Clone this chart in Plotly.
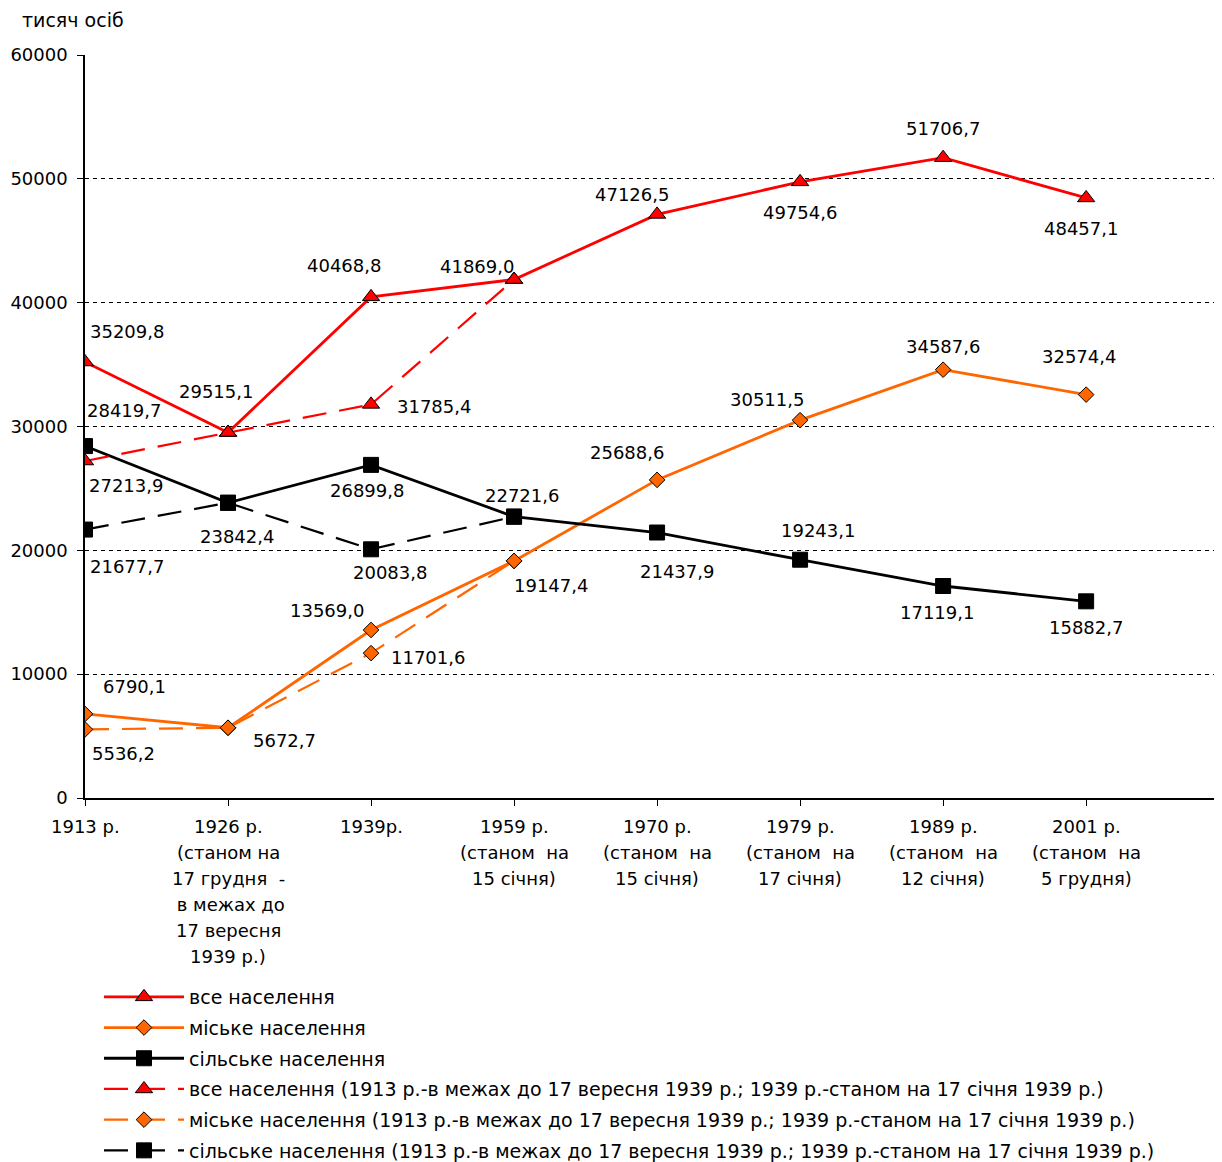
import plotly.graph_objects as go

# categories (census years) and their multi-line axis labels
years = ['1913', '1926', '1939', '1959', '1970', '1979', '1989', '2001']
tick_labels = [
    ['1913 р.'],
    ['1926 р.', '(станом на', '17 грудня  -', ' в межах до', '17 вересня', '1939 р.)'],
    ['1939р.'],
    ['1959 р.', '(станом  на', '15 січня)'],
    ['1970 р.', '(станом  на', '15 січня)'],
    ['1979 р.', '(станом  на', '17 січня)'],
    ['1989 р.', '(станом  на', '12 січня)'],
    ['2001 р.', '(станом  на', '5 грудня)'],
]

total = [35209.8, 29515.1, 40468.8, 41869.0, 47126.5, 49754.6, 51706.7, 48457.1]
urban = [6790.1, 5672.7, 13569.0, 19147.4, 25688.6, 30511.5, 34587.6, 32574.4]
rural = [28419.7, 23842.4, 26899.8, 22721.6, 21437.9, 19243.1, 17119.1, 15882.7]

# 1913 - within borders before 17 Sept 1939; 1939 - as of 17 Jan 1939
total_old = [27213.9, 29515.1, 31785.4, 41869.0]
urban_old = [5536.2, 5672.7, 11701.6, 19147.4]
rural_old = [21677.7, 23842.4, 20083.8, 22721.6]

RED = '#FF0000'
ORANGE = '#FF6600'
BLACK = '#000000'
FONT = 'DejaVu Sans'
FS = 18

# label offsets (px) relative to each point, None = no label
off_total = [(42, -30), (-12, -41), (-27, -31), (-37, -13), (-25, -20), (0, 31), (0, -29), (-5, 31)]
off_total_old = [(41, 24), None, (63, 2), None]
off_urban = [(49, -27), (56, 13), (-44, -19), (37, 25), (-30, -27), (-33, -21), (0, -23), (-7, -38)]
off_urban_old = [(38, 24), None, (57, 4), None]
off_rural = [(39, -36), (9, 34), (-4, 26), (8, -21), (20, 39), (18, -29), (-6, 26), (0, 26)]
off_rural_old = [(42, 37), None, (19, 23), None]

fig = go.Figure()

series = [
    ('все населення', total, RED, 'triangle-up', 'solid', off_total),
    ('міське населення', urban, ORANGE, 'diamond', 'solid', off_urban),
    ('сільське населення', rural, BLACK, 'square', 'solid', off_rural),
    ('все населення (1913 р.-в межах до 17 вересня 1939 р.; 1939 р.-станом на 17 січня 1939 р.)',
     total_old, RED, 'triangle-up', '24px,13px', off_total_old),
    ('міське населення (1913 р.-в межах до 17 вересня 1939 р.; 1939 р.-станом на 17 січня 1939 р.)',
     urban_old, ORANGE, 'diamond', '24px,13px', off_urban_old),
    ('сільське населення (1913 р.-в межах до 17 вересня 1939 р.; 1939 р.-станом на 17 січня 1939 р.)',
     rural_old, BLACK, 'square', '24px,13px', off_rural_old),
]
marker_size = {'triangle-up': 15, 'diamond': 12, 'square': 15}

annotations = []
for k, (name, vals, color, sym, dash, offs) in enumerate(series):
    xs = list(range(len(vals)))
    fig.add_trace(go.Scatter(
        x=xs, y=vals, name=name, mode='lines+markers', legendgroup=str(k),
        line=dict(color=color, width=2.8 if dash == 'solid' else 2.2, dash=dash),
        marker=dict(symbol=sym, size=marker_size[sym], color=color,
                    line=dict(color=BLACK, width=1)),
    ))
    for xi, v, o in zip(xs, vals, offs):
        if o is None:
            continue
        annotations.append(dict(
            x=xi, y=v, xref='x', yref='y', showarrow=False,
            text=f'{v:.1f}'.replace('.', ','), xshift=o[0], yshift=-o[1],
            font=dict(family=FONT, size=FS, color=BLACK),
        ))

# category labels under the axis, one line each
for i, lines in enumerate(tick_labels):
    for j, line in enumerate(lines):
        annotations.append(dict(
            x=i, y=0, xref='x', yref='paper', yanchor='middle', showarrow=False,
            text=line.replace(' ', '&nbsp;'), yshift=-28 - j * 26,
            font=dict(family=FONT, size=FS, color=BLACK),
        ))

annotations.append(dict(
    x=-65 / 1137, y=(798 - 20) / 743, xref='paper', yref='paper', showarrow=False,
    xanchor='left', yanchor='middle',
    text='тисяч осіб', font=dict(family=FONT, size=19, color=BLACK),
))

# the page body adds an 8px offset, so the figure is 8px smaller than the window
fig.update_layout(
    width=1214, height=1154,
    margin=dict(l=77, r=0, t=47, b=364, autoexpand=False),
    paper_bgcolor='white', plot_bgcolor='white',
    font=dict(family=FONT, size=FS, color=BLACK),
    showlegend=True,
    legend=dict(
        x=(99 - 85) / 1137, y=(798 - 978) / 743,
        xanchor='left', yanchor='top', itemwidth=80, tracegroupgap=3,
        font=dict(family=FONT, size=19, color=BLACK), bgcolor='rgba(0,0,0,0)',
    ),
    annotations=annotations,
    xaxis=dict(
        range=[0, 7.95], tickvals=list(range(len(years))), showticklabels=False,
        showgrid=False, zeroline=False, showline=True, linecolor=BLACK, linewidth=1.5,
        ticks='outside', ticklen=6, tickcolor=BLACK, automargin=False,
    ),
    yaxis=dict(
        range=[0, 60000], dtick=10000, tickformat='d',
        showgrid=True, gridcolor=BLACK, gridwidth=1, griddash='4px,4px',
        zeroline=False, showline=True, linecolor=BLACK, linewidth=1.5,
        ticks='outside', ticklen=6, tickcolor=BLACK, automargin=False,
        ticklabelstandoff=6,
        tickfont=dict(family=FONT, size=FS, color=BLACK),
    ),
)

fig.write_html('out.html')
